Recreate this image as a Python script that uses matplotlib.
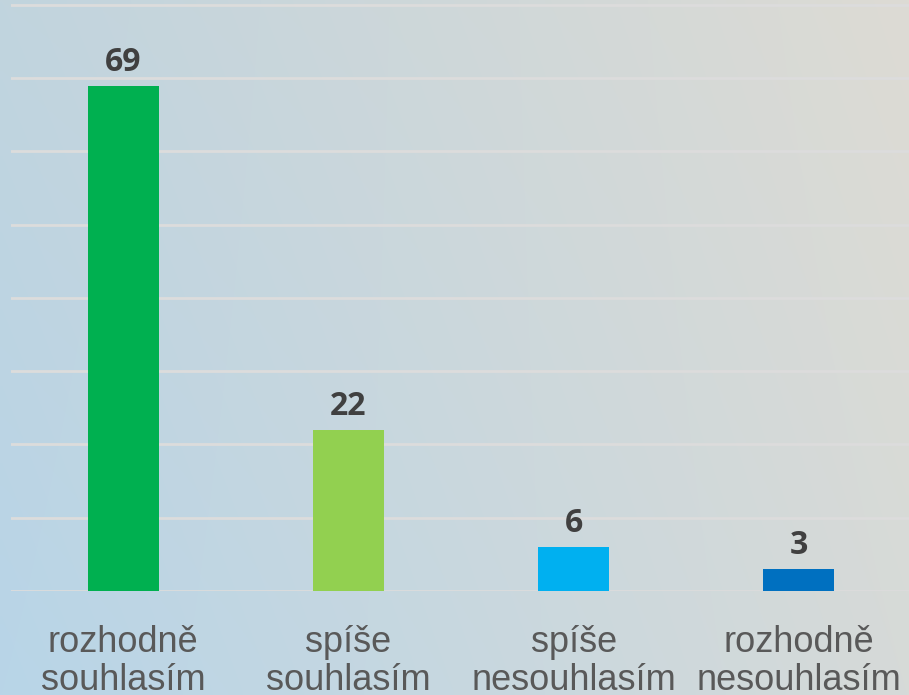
import numpy as np
import matplotlib
matplotlib.use("Agg")
import matplotlib.pyplot as plt
from matplotlib.colors import to_rgb

# data
categories = ["rozhodně\nsouhlasím", "spíše\nsouhlasím", "spíše\nnesouhlasím", "rozhodně\nnesouhlasím"]
values = [69, 22, 6, 3]
bar_colors = ["#00B050", "#92D050", "#00B0F0", "#0070C0"]

W, H = 909, 695
fig = plt.figure(figsize=(W / 100, H / 100), dpi=100)

# background gradient (bilinear between corner colours)
tl, tr = np.array(to_rgb("#c1d4de")), np.array(to_rgb("#dddbd4"))
bl, br = np.array(to_rgb("#b8d5e8")), np.array(to_rgb("#d6dad8"))
u = np.linspace(0, 1, 200)[None, :, None]
v = np.linspace(0, 1, 160)[:, None, None]
grad = (1 - v) * ((1 - u) * tl + u * tr) + v * ((1 - u) * bl + u * br)
bg = fig.add_axes([0, 0, 1, 1], zorder=0)
bg.imshow(grad, aspect="auto", extent=[0, 1, 0, 1], interpolation="bilinear")
bg.axis("off")

ax = fig.add_axes([10.5 / W, 104 / H, 901 / W, 591 / H], zorder=1)
ax.patch.set_alpha(0)
x = np.arange(len(values))
bars = ax.bar(x, values, width=0.315, color=bar_colors, zorder=3)
ax.set_xlim(-0.5, 3.5)
ax.set_ylim(0, 80.68)
ax.set_yticks(np.arange(0, 81, 10))
ax.yaxis.grid(True, color="#dcdcdc", lw=2)
ax.set_axisbelow(True)
ax.tick_params(left=False, labelleft=False, bottom=False)
for s in ax.spines.values():
    s.set_visible(False)

ax.set_xticks(x)
ax.set_xticklabels(categories, fontsize=26, color="#595959",
                   family=["Liberation Sans", "DejaVu Sans"], linespacing=1.1)
ax.tick_params(axis="x", pad=21)

for xi, v_ in zip(x, values):
    ax.annotate(str(v_), (xi, v_), xytext=(0, 5), textcoords="offset points",
                ha="center", va="bottom", fontsize=23, fontweight="bold",
                color="#404040", family=["Open Sans", "DejaVu Sans"])

fig.savefig("out.png", dpi=100)
